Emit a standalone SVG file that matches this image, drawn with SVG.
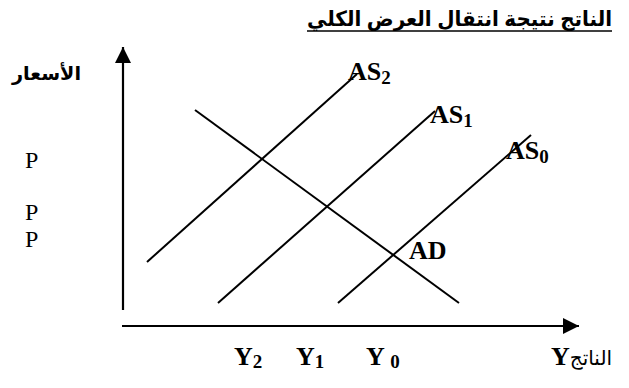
<svg xmlns="http://www.w3.org/2000/svg" width="629" height="388" viewBox="0 0 629 388">
<style>
.ln{stroke:#000;stroke-width:2;fill:none}
.ax{stroke:#000;stroke-width:2.2;fill:none}
.lat{font-family:Liberation Serif,Times New Roman,serif;font-weight:bold;font-size:26px;fill:#000}
.p{font-family:Liberation Serif,Times New Roman,serif;font-size:24px;fill:#000}
.ar{font-family:Liberation Sans,DejaVu Sans,sans-serif;font-weight:bold;fill:#000}
.sub{font-size:19px}
</style>
<defs>
<marker id="ah" markerUnits="userSpaceOnUse" markerWidth="18" markerHeight="16" refX="16" refY="8" orient="auto">
<path d="M0,0 L16,8 L0,16 Z" fill="#000"/>
</marker>
</defs>
<g id="title"><text class="ar" x="612" y="26" font-size="21" text-anchor="end" textLength="305" lengthAdjust="spacingAndGlyphs">الناتج نتيجة انتقال العرض الكلي</text><line x1="307" y1="31" x2="612" y2="31" stroke="#000" stroke-width="1.6"/></g>
<g id="axes">
<line class="ax" x1="123" y1="310" x2="123" y2="47" marker-end="url(#ah)"/>
<line class="ax" x1="122" y1="326" x2="579" y2="326" marker-end="url(#ah)"/>
</g>
<g id="connectors">
<line class="ln" x1="147" y1="262" x2="357" y2="74"/>
<line class="ln" x1="218" y1="303" x2="435" y2="111"/>
<line class="ln" x1="338" y1="303" x2="531" y2="135"/>
<line class="ln" x1="195" y1="110" x2="459" y2="303"/>
</g>
<g id="ylabel"><text class="ar" x="12" y="80" font-size="19" textLength="69" lengthAdjust="spacingAndGlyphs">الأسعار</text></g>
<g id="p1"><text class="p" x="25" y="168">P</text></g>
<g id="p2"><text class="p" x="25" y="220">P</text></g>
<g id="p3"><text class="p" x="25" y="247">P</text></g>
<g id="as2"><text class="lat" x="348" y="80">AS<tspan class="sub" dy="4">2</tspan></text></g>
<g id="as1"><text class="lat" x="430" y="123">AS<tspan class="sub" dy="4">1</tspan></text></g>
<g id="as0"><text class="lat" x="506" y="159">AS<tspan class="sub" dy="4">0</tspan></text></g>
<g id="ad"><text class="lat" x="409" y="259">AD</text></g>
<g id="y2"><text class="lat" x="234" y="365">Y<tspan class="sub" dy="3">2</tspan></text></g>
<g id="y1"><text class="lat" x="296" y="365">Y<tspan class="sub" dy="3">1</tspan></text></g>
<g id="y0"><text class="lat" x="366" y="365">Y <tspan class="sub" dy="3">0</tspan></text></g>
<g id="xlabel"><text class="lat" x="551" y="365">Y<tspan font-family="Liberation Sans,DejaVu Sans,sans-serif" font-weight="normal" font-size="20">الناتج</tspan></text></g>
</svg>
